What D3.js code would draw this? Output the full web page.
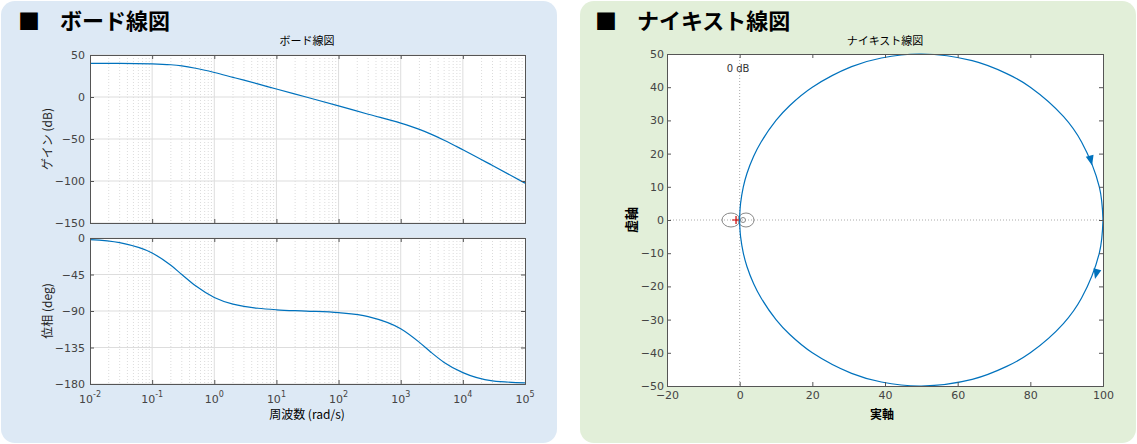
<!DOCTYPE html><html><head><meta charset="utf-8">
<script src="https://cdn.jsdelivr.net/npm/d3@7"></script>
<style>body{margin:0;background:#fff;font-family:"Noto Sans CJK JP","Noto Sans",sans-serif}</style></head><body>
<svg id="c" width="1137" height="444"></svg>
<script>
const freq=[0.01,0.03,0.1,0.2,0.3,0.5,1,2,3,5,10,30,100,300,1000,2000,3000,5000,1e4,3e4,1e5];
const gainDb=[40,40,39.5,38.4,37,34.2,29.2,23.4,20,15.6,9.5,0,-10.5,-20.5,-31.1,-38.6,-43.9,-51.4,-62.8,-81.6,-102.5];
const phaseDeg=[-1.9,-5.7,-18.4,-33.7,-45,-59,-73.3,-81.5,-84.3,-86.6,-88.5,-90.1,-92.1,-96.9,-111.9,-128.7,-140.2,-153.4,-166,-176.1,-178.6];
const nyqRe=[100,99,94.1,89.1,80,73.5,64,50,39,30.8,20,13.8,10,5.9,3.85,2,0.99,0.25,0.04,0];
const nyqIm=[0,-9.9,-23.5,-31.2,-40,-44.1,-48,-50,-48.8,-46.2,-40,-34.5,-30,-23.5,-19.2,-14,-9.9,-5,-2,0];
const gainTicks=[50,0,-50,-100,-150];
const phaseTicks=[0,-45,-90,-135,-180];
const nyqXTicks=[-20,0,20,40,60,80,100];
const nyqYTicks=[50,40,30,20,10,0,-10,-20,-30,-40,-50];

const svg=d3.select("#c");
const blue="#0072bd", axc="#555", font="Noto Sans CJK JP";
svg.append("rect").attr("x",1).attr("y",1).attr("width",556).attr("height",442).attr("rx",14).attr("fill","#dde9f5");
svg.append("rect").attr("x",580).attr("y",1).attr("width",556).attr("height",442).attr("rx",14).attr("fill","#e2efd9");
function head(x,t){svg.append("text").attr("x",x).attr("y",29).attr("font-size",22).attr("font-weight","bold").attr("font-family",font).text("■");
 svg.append("text").attr("x",x+42).attr("y",29).attr("font-size",22).attr("font-weight","bold").attr("font-family",font).text(t);}
head(18,"ボード線図");head(595,"ナイキスト線図");

const x=d3.scaleLog().domain([1e-2,1e5]).range([90,525]);
function bodePlot(y0,y1,dom,ticks,vals,label){
 const y=d3.scaleLinear().domain(dom).range([y1,y0]);
 const g=svg.append("g");
 g.append("rect").attr("x",90).attr("y",y0).attr("width",435).attr("height",y1-y0).attr("fill","#fff");
 for(let e=-2;e<5;e++)for(let m=2;m<10;m++){const xv=x(m*10**e);
  g.append("line").attr("x1",xv).attr("x2",xv).attr("y1",y0).attr("y2",y1).attr("stroke","#ccc").attr("stroke-dasharray","1,2").attr("stroke-width",0.7);}
 for(let e=-1;e<5;e++){const xv=x(10**e);g.append("line").attr("x1",xv).attr("x2",xv).attr("y1",y0).attr("y2",y1).attr("stroke","#ddd");}
 ticks.forEach(t=>g.append("line").attr("x1",90).attr("x2",525).attr("y1",y(t)).attr("y2",y(t)).attr("stroke","#ddd"));
 g.append("path").datum(d3.range(freq.length)).attr("fill","none").attr("stroke",blue).attr("stroke-width",1.2)
  .attr("d",d3.line().curve(d3.curveMonotoneX).x(i=>x(freq[i])).y(i=>y(vals[i])));
 const ax=d3.axisLeft(y).tickValues(ticks).tickSize(-4).tickPadding(5).tickFormat(d=>d<0?"−"+(-d):d);
 g.append("g").attr("transform","translate(90,0)").call(ax);
 g.append("g").attr("transform","translate(525,0)").call(d3.axisRight(y).tickValues(ticks).tickSize(-4).tickFormat(""));
 g.append("g").attr("transform",`translate(0,${y1})`).call(d3.axisBottom(x).tickValues(d3.range(-2,6).map(e=>10**e)).tickSize(-4).tickFormat(""));
 g.append("g").attr("transform",`translate(0,${y0})`).call(d3.axisTop(x).tickValues(d3.range(-2,6).map(e=>10**e)).tickSize(-4).tickFormat(""));
 g.selectAll(".domain").attr("stroke",axc);g.selectAll(".tick line").attr("stroke",axc);
 g.selectAll("text").attr("font-size",11).attr("fill","#444").attr("font-family","DejaVu Sans");
 g.append("text").attr("transform",`translate(52,${(y0+y1)/2}) rotate(-90)`).attr("text-anchor","middle").attr("font-size",12).attr("font-family",font).attr("fill","#222").text(label);
 return y;
}
bodePlot(55,223,[-150,50],gainTicks,gainDb,"ゲイン (dB)");
bodePlot(238,384,[-180,0],phaseTicks,phaseDeg,"位相 (deg)");
d3.range(-2,6).forEach(e=>{const t=svg.append("text").attr("x",x(10**e)).attr("y",403).attr("text-anchor","middle").attr("font-size",11).attr("fill","#444").attr("font-family","DejaVu Sans");
 t.append("tspan").text("10");t.append("tspan").attr("dy",-6).attr("font-size",8).text(e);});
svg.append("text").attr("x",307).attr("y",419).attr("text-anchor","middle").attr("font-size",12).attr("font-family",font).text("周波数 (rad/s)");
svg.append("text").attr("x",307).attr("y",45).attr("text-anchor","middle").attr("font-size",11).attr("font-family",font).text("ボード線図");

// Nyquist
const nx=d3.scaleLinear().domain([-20,100]).range([667,1103]);
const ny=d3.scaleLinear().domain([-50,50]).range([386,54]);
const ng=svg.append("g");
ng.append("rect").attr("x",667).attr("y",54).attr("width",436).attr("height",332).attr("fill","#fff");
ng.append("line").attr("x1",nx(0)).attr("x2",nx(0)).attr("y1",54).attr("y2",386).attr("stroke","#aaa").attr("stroke-dasharray","1,2");
ng.append("line").attr("x1",667).attr("x2",1103).attr("y1",ny(0)).attr("y2",ny(0)).attr("stroke","#aaa").attr("stroke-dasharray","1,2");
ng.append("ellipse").attr("cx",731).attr("cy",ny(0)).attr("rx",9).attr("ry",7).attr("fill","none").attr("stroke","#888");
ng.append("ellipse").attr("cx",746).attr("cy",ny(0)).attr("rx",8).attr("ry",7).attr("fill","none").attr("stroke","#888");
ng.append("circle").attr("cx",743).attr("cy",ny(0)).attr("r",2.5).attr("fill","none").attr("stroke","#888");
ng.append("path").attr("d",`M${nx(-1)-4},${ny(0)}h8M${nx(-1)},${ny(0)-4}v8`).attr("stroke","#c00").attr("stroke-width",1.2);
const idx=d3.range(nyqRe.length);
const nl=d3.line().curve(d3.curveCatmullRom);
ng.append("path").attr("fill","none").attr("stroke",blue).attr("stroke-width",1.2).attr("d",nl(idx.map(i=>[nx(nyqRe[i]),ny(nyqIm[i])])));
ng.append("path").attr("fill","none").attr("stroke",blue).attr("stroke-width",1.2).attr("d",nl(idx.map(i=>[nx(nyqRe[i]),ny(-nyqIm[i])])));
function arrow(re,im,ang){ng.append("path").attr("d","M0,6L-4,-4L4,-4Z").attr("fill",blue).attr("transform",`translate(${nx(re)},${ny(im)}) rotate(${ang})`);}
arrow(96.6,18.2,-14);arrow(98.2,-16,14);
ng.append("g").attr("transform","translate(0,386)").call(d3.axisBottom(nx).tickValues(nyqXTicks).tickSize(-4).tickPadding(5));
ng.append("g").attr("transform","translate(0,54)").call(d3.axisTop(nx).tickValues(nyqXTicks).tickSize(-4).tickFormat(""));
ng.append("g").attr("transform","translate(667,0)").call(d3.axisLeft(ny).tickValues(nyqYTicks).tickSize(-4).tickFormat(d=>d<0?"−"+(-d):d));
ng.append("g").attr("transform","translate(1103,0)").call(d3.axisRight(ny).tickValues(nyqYTicks).tickSize(-4).tickFormat(""));
ng.selectAll(".domain").attr("stroke",axc);ng.selectAll(".tick line").attr("stroke",axc);
ng.selectAll(".tick text").attr("font-size",11).attr("fill","#444").attr("font-family","DejaVu Sans");
svg.append("text").attr("x",738).attr("y",72).attr("text-anchor","middle").attr("font-size",10).attr("font-family","DejaVu Sans").attr("fill","#333").text("0 dB");
svg.append("text").attr("x",885).attr("y",45).attr("text-anchor","middle").attr("font-size",11).attr("font-family",font).text("ナイキスト線図");
svg.append("text").attr("x",882).attr("y",419).attr("text-anchor","middle").attr("font-size",12).attr("font-weight","bold").attr("font-family",font).text("実軸");
svg.append("text").attr("transform","translate(636,220) rotate(-90)").attr("text-anchor","middle").attr("font-size",13).attr("font-weight","bold").attr("font-family",font).text("虚軸");
</script></body></html>
